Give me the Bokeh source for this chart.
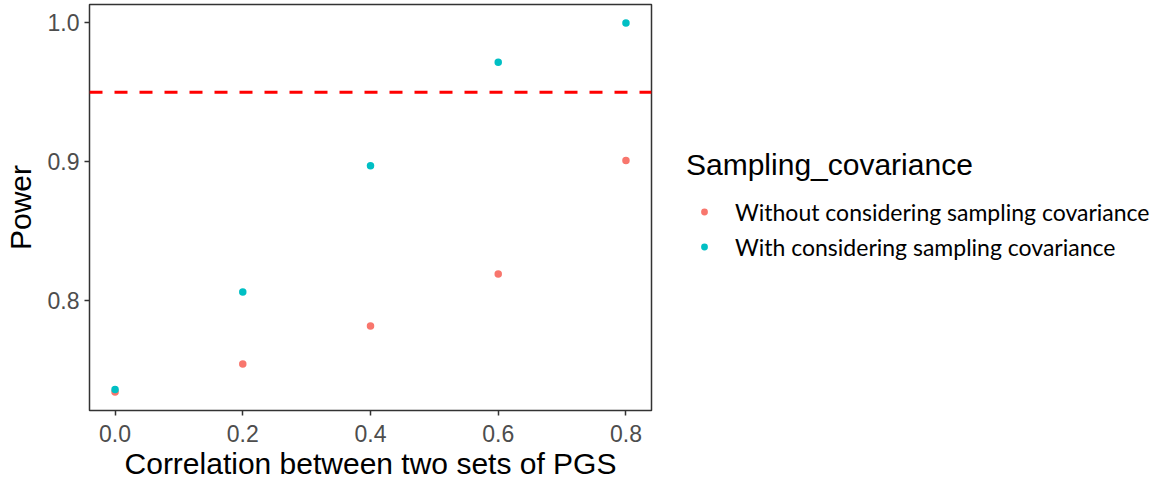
from bokeh.plotting import figure
from bokeh.layouts import row
from bokeh.models import Range1d, Span, Legend, LegendItem, FixedTicker
from bokeh.embed import file_html
from bokeh.resources import INLINE

correlation = [0.0, 0.2, 0.4, 0.6, 0.8]
power_without = [0.7336, 0.7538, 0.7813, 0.8188, 0.9008]
power_with = [0.7355, 0.8058, 0.8969, 0.9717, 1.0]
threshold = 0.95
x_ticks = [0.0, 0.2, 0.4, 0.6, 0.8]
y_ticks = [0.8, 0.9, 1.0]
series_names = ["Without considering sampling covariance", "With considering sampling covariance"]
series_colors = ["#F8766D", "#00BFC4"]
legend_title = "Sampling_covariance"

p = figure(width=657, height=483, output_backend="svg", toolbar_location=None,
           x_range=Range1d(-0.04, 0.84), y_range=Range1d(0.7203, 1.0133),
           min_border_left=85, min_border_right=6, min_border_top=4, min_border_bottom=73)
p.background_fill_color = "white"
p.border_fill_color = "white"
p.xgrid.visible = False
p.ygrid.visible = False
p.outline_line_color = "#333333"
p.outline_line_width = 1.5

for ax in (p.xaxis[0], p.yaxis[0]):
    ax.axis_line_color = None
    ax.major_tick_line_color = "#333333"
    ax.major_tick_line_width = 1.5
    ax.major_tick_out = 5
    ax.major_tick_in = 0
    ax.minor_tick_line_color = None
    ax.major_label_text_color = "#4D4D4D"
    ax.major_label_text_font = "Liberation Sans"
    ax.major_label_text_font_size = "23px"
    ax.axis_label_text_font = "Liberation Sans"
    ax.axis_label_text_font_size = "30px"
    ax.axis_label_text_font_style = "normal"
    ax.axis_label_text_color = "black"

p.xaxis[0].ticker = FixedTicker(ticks=x_ticks)
p.yaxis[0].ticker = FixedTicker(ticks=y_ticks)
p.xaxis[0].major_label_overrides = {t: f"{t:.1f}" for t in x_ticks}
p.yaxis[0].major_label_overrides = {t: f"{t:.1f}" for t in y_ticks}
p.xaxis[0].axis_label = "Correlation between two sets of PGS"
p.yaxis[0].axis_label = "Power"
p.xaxis[0].major_label_standoff = 9
p.xaxis[0].axis_label_standoff = 2
p.yaxis[0].major_label_standoff = 5
p.yaxis[0].axis_label_standoff = 8

p.add_layout(Span(location=threshold, dimension="width", line_color="#FF0000",
                  line_width=3, line_dash="13 12"))

p.scatter(correlation, power_without, size=7.5, color=series_colors[0], line_width=0)
p.scatter(correlation, power_with, size=7.5, color=series_colors[1], line_width=0)

# legend panel (its ranges lie away from the data, so only the legend shows)
q = figure(width=500, height=483, output_backend="svg", toolbar_location=None,
           x_range=Range1d(10, 11), y_range=Range1d(10, 11),
           x_axis_type=None, y_axis_type=None,
           min_border_left=0, min_border_right=0, min_border_top=0, min_border_bottom=0)
q.outline_line_color = None
q.grid.visible = False
q.background_fill_color = "white"
q.border_fill_color = "white"
g1 = q.scatter(correlation, power_without, size=7, color=series_colors[0], line_width=0)
g2 = q.scatter(correlation, power_with, size=7, color=series_colors[1], line_width=0)

legend = Legend(items=[LegendItem(label=series_names[0], renderers=[g1]),
                       LegendItem(label=series_names[1], renderers=[g2])],
                location=(29, 146), orientation="vertical",
                title=legend_title, title_text_font="Liberation Sans", title_text_font_size="30px",
                title_text_font_style="normal", title_text_color="black", title_standoff=12,
                glyph_width=36, glyph_height=17, label_height=35, label_standoff=13,
                spacing=0, padding=0, margin=0,
                border_line_color=None, background_fill_alpha=0,
                label_text_font="Lato", label_text_font_size="23px", label_text_color="black")
q.add_layout(legend)

layout = row(p, q)
open("out.html", "w").write(file_html(layout, INLINE))
